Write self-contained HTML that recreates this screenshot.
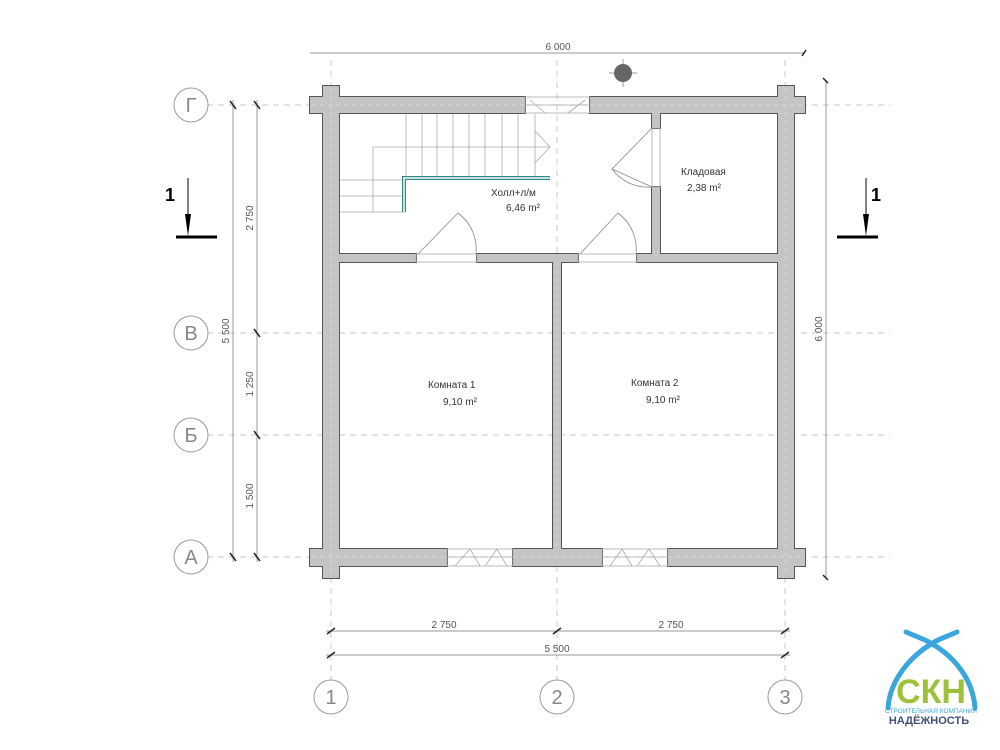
<!DOCTYPE html>
<html><head><meta charset="utf-8"><style>
html,body{margin:0;padding:0;background:#fff;width:1000px;height:750px;overflow:hidden}
svg{display:block;font-family:"Liberation Sans","DejaVu Sans",sans-serif}
</style></head><body>
<svg width="1000" height="750" viewBox="0 0 1000 750" xmlns="http://www.w3.org/2000/svg">
<defs>
<g id="walls">
<rect x="323" y="86" width="16" height="492"/>
<rect x="778" y="86" width="16" height="492"/>
<rect x="310" y="97" width="215" height="16"/>
<rect x="590" y="97" width="215" height="16"/>
<rect x="310" y="549" width="137" height="17"/>
<rect x="513" y="549" width="89" height="17"/>
<rect x="668" y="549" width="137" height="17"/>
<rect x="339" y="254" width="77" height="8"/>
<rect x="477" y="254" width="101" height="8"/>
<rect x="637" y="254" width="141" height="8"/>
<rect x="553" y="254" width="8" height="295"/>
<rect x="652" y="113" width="8" height="15"/>
<rect x="652" y="187" width="8" height="75"/>
</g>
</defs>
<!-- axis lines -->
<g stroke="#c8c8c8" stroke-width="1" stroke-dasharray="6,5" fill="none">
<line x1="207" y1="105" x2="890" y2="105"/>
<line x1="207" y1="333" x2="890" y2="333"/>
<line x1="207" y1="435" x2="890" y2="435"/>
<line x1="207" y1="557" x2="890" y2="557"/>
<line x1="331" y1="60" x2="331" y2="680"/>
<line x1="557" y1="60" x2="557" y2="680"/>
<line x1="785" y1="60" x2="785" y2="680"/>
</g>
<!-- axis circles -->
<g stroke="#999" fill="#fff" stroke-width="1">
<circle cx="191" cy="105" r="17"/><circle cx="191" cy="333" r="17"/>
<circle cx="191" cy="435" r="17"/><circle cx="191" cy="557" r="17"/>
<circle cx="331" cy="697" r="17"/><circle cx="557" cy="697" r="17"/><circle cx="785" cy="697" r="17"/>
</g>
<g fill="#888" font-size="20" text-anchor="middle">
<text x="191" y="112">Г</text><text x="191" y="340">В</text><text x="191" y="442">Б</text><text x="191" y="564">А</text>
<text x="331" y="704">1</text><text x="557" y="704">2</text><text x="785" y="704">3</text>
</g>
<!-- dimension lines -->
<g stroke="#999" stroke-width="1">
<line x1="310" y1="53" x2="805" y2="53"/>
<line x1="233" y1="100" x2="233" y2="562"/>
<line x1="257" y1="100" x2="257" y2="562"/>
<line x1="826" y1="80" x2="826" y2="578"/>
<line x1="326" y1="631" x2="790" y2="631"/>
<line x1="326" y1="655" x2="790" y2="655"/>
</g>
<g stroke="#222" stroke-width="1.5">
<line x1="230" y1="101" x2="236" y2="109"/><line x1="230" y1="553" x2="236" y2="561"/>
<line x1="254" y1="101" x2="260" y2="109"/><line x1="254" y1="329" x2="260" y2="337"/><line x1="254" y1="431" x2="260" y2="439"/><line x1="254" y1="553" x2="260" y2="561"/>
<line x1="327" y1="634" x2="335" y2="628"/><line x1="553" y1="634" x2="561" y2="628"/><line x1="781" y1="634" x2="789" y2="628"/>
<line x1="327" y1="658" x2="335" y2="652"/><line x1="781" y1="658" x2="789" y2="652"/>
<line x1="802" y1="56" x2="806" y2="50"/>
<line x1="823" y1="78" x2="828" y2="83"/><line x1="823" y1="575" x2="828" y2="580"/>
</g>
<g fill="#555" font-size="10" text-anchor="middle">
<text x="558" y="50">6 000</text>
<text x="444" y="628">2 750</text><text x="671" y="628">2 750</text><text x="557" y="652">5 500</text>
<text transform="translate(229,331) rotate(-90)">5 500</text>
<text transform="translate(253,218) rotate(-90)">2 750</text>
<text transform="translate(253,384) rotate(-90)">1 250</text>
<text transform="translate(253,496) rotate(-90)">1 500</text>
<text transform="translate(822,329) rotate(-90)">6 000</text>
</g>
<!-- section marks -->
<g stroke="#000">
<line x1="176" y1="237" x2="217" y2="237" stroke-width="3"/>
<line x1="188" y1="178" x2="188" y2="220" stroke-width="1"/>
<line x1="837" y1="237" x2="878" y2="237" stroke-width="3"/>
<line x1="866" y1="178" x2="866" y2="220" stroke-width="1"/>
</g>
<polygon points="185,214 191,214 188,236" fill="#000"/>
<polygon points="863,214 869,214 866,236" fill="#000"/>
<g font-size="18" font-weight="bold" fill="#000"><text x="165" y="201">1</text><text x="871" y="201">1</text></g>
<g stroke="#999"><line x1="609" y1="73" x2="637" y2="73"/><line x1="623" y1="59" x2="623" y2="87"/></g>
<circle cx="623" cy="73" r="9" fill="#666"/>
<!-- walls: outline layer then fill layer -->
<use href="#walls" fill="#555" stroke="#555" stroke-width="2"/>
<use href="#walls" fill="#c4c4c4"/>
<g stroke="#d8d8d8" stroke-width="1" stroke-dasharray="4,4" fill="none">
<line x1="331" y1="88" x2="331" y2="576"/><line x1="786" y1="88" x2="786" y2="576"/>
<line x1="312" y1="105" x2="525" y2="105"/><line x1="590" y1="105" x2="803" y2="105"/>
<line x1="312" y1="557" x2="447" y2="557"/><line x1="513" y1="557" x2="602" y2="557"/><line x1="668" y1="557" x2="803" y2="557"/>
<line x1="557" y1="262" x2="557" y2="549"/>
</g>
<!-- windows / openings -->
<g stroke="#aaa" stroke-width="0.8" fill="none">
<rect x="525" y="97" width="65" height="16"/><line x1="525" y1="105" x2="590" y2="105"/>
<rect x="447" y="549" width="66" height="17"/><line x1="447" y1="557" x2="513" y2="557"/>
<rect x="602" y="549" width="66" height="17"/><line x1="602" y1="557" x2="668" y2="557"/>
<path d="M455,566 L470,549 L480,566 M485,566 L497,549 L507,566"/>
<path d="M610,566 L622,549 L632,566 M637,566 L649,549 L660,566"/>
<path d="M530,100 L545,113 M585,100 L568,113"/>
<rect x="652" y="128" width="8" height="59"/>
<rect x="416" y="254" width="61" height="8"/><rect x="578" y="254" width="59" height="8"/>
</g>
<g stroke="#888" stroke-width="0.8" fill="none">
<path d="M418,254 L458,213 A45,45 0 0 1 476,254"/>
<path d="M580,254 L618,213 A45,45 0 0 1 636,254"/>
<path d="M652,187 L612,169 L652,128"/>
<path d="M612,169 A45,45 0 0 0 652,187" />
</g>
<!-- stairs -->
<g stroke="#aaa" stroke-width="0.8" fill="none">
<path d="M406,114V178 M422,114V178 M437,114V178 M453,114V178 M469,114V178 M485,114V178 M502,114V178 M518,114V178 M535,114V178"/>
<path d="M373,147H550 M373,147V212 M340,180H405 M340,196H405 M340,212H405"/>
<path d="M535,131 L550,147 L535,163"/>
</g>
<g stroke="#2f8a84" stroke-width="4" fill="none"><path d="M550,178H404V212"/></g>
<g stroke="#fff" stroke-width="1.5" fill="none"><path d="M550,178H404V212"/></g>
<!-- labels -->
<g fill="#333" font-size="10">
<text x="491" y="196">Холл+л/м</text><text x="506" y="211">6,46 m²</text>
<text x="681" y="175">Кладовая</text><text x="687" y="191">2,38 m²</text>
<text x="428" y="388">Комната 1</text><text x="443" y="405">9,10 m²</text>
<text x="631" y="386">Комната 2</text><text x="646" y="403">9,10 m²</text>
</g>
<!-- logo -->
<g fill="none" stroke="#3aa6dc" stroke-width="5" stroke-linecap="round">
<path d="M888,708 C890,680 910,655 938,640 L957,632"/>
<path d="M975,708 C973,680 955,655 925,640 L906,632"/>
</g>
<text x="931" y="703" text-anchor="middle" font-size="34" font-weight="bold" fill="#9cc23a">СКН</text>
<text x="931" y="713" text-anchor="middle" font-size="6.5" fill="#3aa6dc">СТРОИТЕЛЬНАЯ КОМПАНИЯ</text>
<text x="929" y="724" text-anchor="middle" font-size="11" font-weight="bold" fill="#44507a">НАДЁЖНОСТЬ</text>
</svg>
</body></html>
